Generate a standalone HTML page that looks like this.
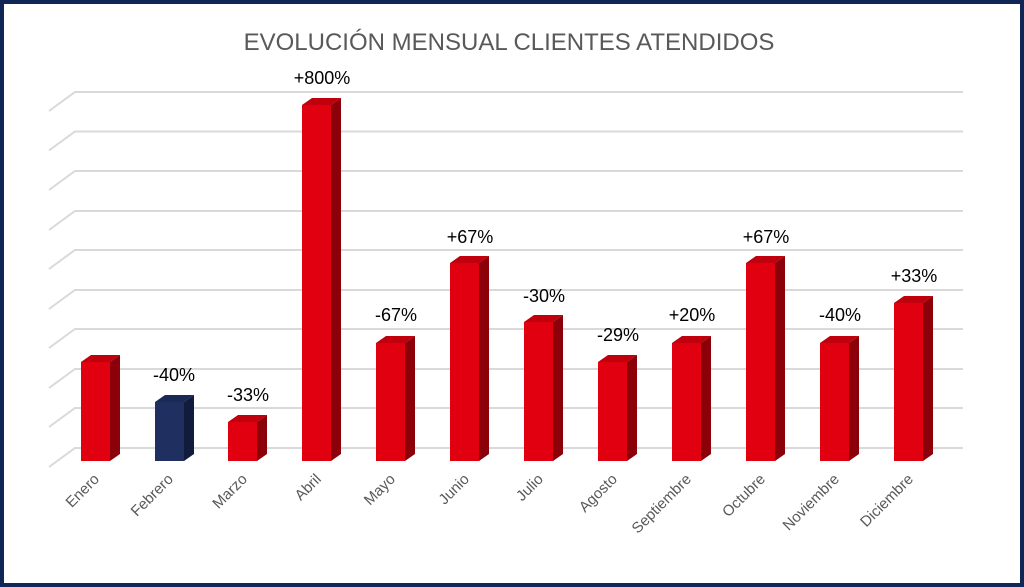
<!DOCTYPE html>
<html><head><style>
html,body{margin:0;padding:0;background:#fff}
svg{display:block}
</style></head><body>
<svg width="1024" height="587" viewBox="0 0 1024 587" xmlns="http://www.w3.org/2000/svg" font-family="Liberation Sans, sans-serif">
<rect x="2" y="2" width="1020" height="583" fill="#fff" stroke="#0f2756" stroke-width="4"/>
<text x="509" y="50" text-anchor="middle" font-size="24" fill="#595959">EVOLUCIÓN MENSUAL CLIENTES ATENDIDOS</text>
<g stroke="#d9d9d9" stroke-width="2" fill="none">
<path d="M49 111 L75 92 H963"/>
<path d="M49 150.5 L75 131.5 H963"/>
<path d="M49 190 L75 171 H963"/>
<path d="M49 230 L75 211 H963"/>
<path d="M49 269 L75 250 H963"/>
<path d="M49 309 L75 290 H963"/>
<path d="M49 348 L75 329 H963"/>
<path d="M49 388 L75 369 H963"/>
<path d="M49 427 L75 408 H963"/>
<path d="M49 467 L75 448 H963"/>
</g>
<g font-size="18" fill="#000" text-anchor="middle">
<text x="174" y="381">-40%</text>
<text x="248" y="401">-33%</text>
<text x="322" y="84">+800%</text>
<text x="396" y="321">-67%</text>
<text x="470" y="243">+67%</text>
<text x="544" y="302">-30%</text>
<text x="618" y="341">-29%</text>
<text x="692" y="321">+20%</text>
<text x="766" y="243">+67%</text>
<text x="840" y="321">-40%</text>
<text x="914" y="282">+33%</text>
</g>
<g font-size="15" fill="#595959" text-anchor="end">
<text transform="translate(100,480) rotate(-45)">Enero</text>
<text transform="translate(174,480) rotate(-45)">Febrero</text>
<text transform="translate(248,480) rotate(-45)">Marzo</text>
<text transform="translate(322,480) rotate(-45)">Abril</text>
<text transform="translate(396,480) rotate(-45)">Mayo</text>
<text transform="translate(470,480) rotate(-45)">Junio</text>
<text transform="translate(544,480) rotate(-45)">Julio</text>
<text transform="translate(618,480) rotate(-45)">Agosto</text>
<text transform="translate(692,480) rotate(-45)">Septiembre</text>
<text transform="translate(766,480) rotate(-45)">Octubre</text>
<text transform="translate(840,480) rotate(-45)">Noviembre</text>
<text transform="translate(914,480) rotate(-45)">Diciembre</text>
</g>
<g>
<g transform="translate(81,0)"><path d="M0 362 L10 355 H39 L29 362Z" fill="#c0000c"/><path d="M29 362 L39 355 V454 L29 461Z" fill="#8b0009"/><rect x="0" y="362" width="29" height="99" fill="#e10010"/></g>
<g transform="translate(155,0)"><path d="M0 402 L10 395 H39 L29 402Z" fill="#1a2a55"/><path d="M29 402 L39 395 V454 L29 461Z" fill="#111c3c"/><rect x="0" y="402" width="29" height="59" fill="#1f2f5f"/></g>
<g transform="translate(228,0)"><path d="M0 422 L10 415 H39 L29 422Z" fill="#c0000c"/><path d="M29 422 L39 415 V454 L29 461Z" fill="#8b0009"/><rect x="0" y="422" width="29" height="39" fill="#e10010"/></g>
<g transform="translate(302,0)"><path d="M0 105 L10 98 H39 L29 105Z" fill="#c0000c"/><path d="M29 105 L39 98 V454 L29 461Z" fill="#8b0009"/><rect x="0" y="105" width="29" height="356" fill="#e10010"/></g>
<g transform="translate(376,0)"><path d="M0 343 L10 336 H39 L29 343Z" fill="#c0000c"/><path d="M29 343 L39 336 V454 L29 461Z" fill="#8b0009"/><rect x="0" y="343" width="29" height="118" fill="#e10010"/></g>
<g transform="translate(450,0)"><path d="M0 263 L10 256 H39 L29 263Z" fill="#c0000c"/><path d="M29 263 L39 256 V454 L29 461Z" fill="#8b0009"/><rect x="0" y="263" width="29" height="198" fill="#e10010"/></g>
<g transform="translate(524,0)"><path d="M0 322 L10 315 H39 L29 322Z" fill="#c0000c"/><path d="M29 322 L39 315 V454 L29 461Z" fill="#8b0009"/><rect x="0" y="322" width="29" height="139" fill="#e10010"/></g>
<g transform="translate(598,0)"><path d="M0 362 L10 355 H39 L29 362Z" fill="#c0000c"/><path d="M29 362 L39 355 V454 L29 461Z" fill="#8b0009"/><rect x="0" y="362" width="29" height="99" fill="#e10010"/></g>
<g transform="translate(672,0)"><path d="M0 343 L10 336 H39 L29 343Z" fill="#c0000c"/><path d="M29 343 L39 336 V454 L29 461Z" fill="#8b0009"/><rect x="0" y="343" width="29" height="118" fill="#e10010"/></g>
<g transform="translate(746,0)"><path d="M0 263 L10 256 H39 L29 263Z" fill="#c0000c"/><path d="M29 263 L39 256 V454 L29 461Z" fill="#8b0009"/><rect x="0" y="263" width="29" height="198" fill="#e10010"/></g>
<g transform="translate(820,0)"><path d="M0 343 L10 336 H39 L29 343Z" fill="#c0000c"/><path d="M29 343 L39 336 V454 L29 461Z" fill="#8b0009"/><rect x="0" y="343" width="29" height="118" fill="#e10010"/></g>
<g transform="translate(894,0)"><path d="M0 303 L10 296 H39 L29 303Z" fill="#c0000c"/><path d="M29 303 L39 296 V454 L29 461Z" fill="#8b0009"/><rect x="0" y="303" width="29" height="158" fill="#e10010"/></g>
</g>
</svg>
</body></html>
